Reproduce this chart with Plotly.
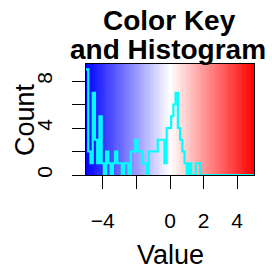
import numpy as np
import plotly.graph_objects as go

# Data
break_min = -5.0
break_max = 5.0
counts = [9, 2, 1, 7, 3, 1, 5, 1, 0, 2,
          1, 0, 1, 2, 1, 1, 0, 1, 1, 0,
          2, 2, 3, 2, 2, 1, 1, 0, 2, 2,
          2, 2, 3, 3, 3, 1, 4, 4, 5, 6,
          7, 4, 3, 2, 1, 0, 1, 0, 0, 1,
          1, 0, 0, 0, 0, 0, 0, 0, 0, 0,
          0, 0, 0, 0, 0, 0, 0, 0, 0, 0,
          0, 0, 0, 0, 0]
x_tick_vals = [-4, -2, 0, 2, 4]
x_tick_text = ["\u22124", "", "0", "2", "4"]
y_tick_vals = [0, 2, 4, 6, 8]
y_tick_text = ["0", "", "4", "", "8"]
title_lines = ["Color Key", "and Histogram"]
x_title = "Value"
y_title = "Count"

n_bins = len(counts)
edges = np.linspace(break_min, break_max, n_bins + 1)
centers = (edges[:-1] + edges[1:]) / 2
y_max = max(counts) * 1.05

FONT = "Liberation Sans, Arial, sans-serif"

fig = go.Figure()
fig.add_trace(go.Heatmap(
    x=edges, y=[0, y_max], z=[list(centers)],
    zmin=break_min, zmax=break_max,
    colorscale=[[0, "#0000FF"], [0.5, "#FFFFFF"], [1, "#FF0000"]],
    showscale=False, hoverinfo="skip",
))
fig.add_trace(go.Scatter(
    x=edges, y=counts + [counts[-1]], mode="lines",
    line=dict(color="#00FFFF", width=2.2, shape="hv"),
    showlegend=False, cliponaxis=True, hoverinfo="skip",
))

fig.update_layout(
    width=272, height=272,
    margin=dict(l=86, r=18, t=64, b=97),
    paper_bgcolor="white", plot_bgcolor="white",
    font=dict(family=FONT, color="black"),
    showlegend=False,
)
fig.update_xaxes(
    range=[break_min, break_max], tickvals=x_tick_vals, ticktext=x_tick_text,
    ticks="outside", ticklen=13, tickwidth=1, tickcolor="black",
    showline=True, linecolor="black", linewidth=1, mirror=True,
    showgrid=False, zeroline=False, tickfont=dict(size=21),
    ticklabelstandoff=14,
)
fig.update_yaxes(
    range=[0, y_max], tickvals=y_tick_vals, ticktext=y_tick_text,
    ticks="outside", ticklen=13, tickwidth=1, tickcolor="black",
    showline=True, linecolor="black", linewidth=1, mirror=True,
    showgrid=False, zeroline=False, tickfont=dict(size=21), tickangle=-90,
    ticklabelstandoff=12,
)

def px_x(px):
    return (px - 86) / (254 - 86)
def px_y(py):
    return (175 - py) / (175 - 64)
fig.add_annotation(text="<b>%s</b>" % title_lines[0], x=px_x(169), y=px_y(20), xref="paper", yref="paper",
                   showarrow=False, font=dict(size=28), xanchor="center", yanchor="middle")
fig.add_annotation(text="<b>%s</b>" % title_lines[1], x=px_x(168), y=px_y(50), xref="paper", yref="paper",
                   showarrow=False, font=dict(size=28), xanchor="center", yanchor="middle")
fig.add_annotation(text=x_title, x=px_x(170), y=px_y(255), xref="paper", yref="paper",
                   showarrow=False, font=dict(size=27), xanchor="center", yanchor="middle")
fig.add_annotation(text=y_title, x=px_x(25), y=px_y(120), xref="paper", yref="paper",
                   showarrow=False, font=dict(size=27), xanchor="center", yanchor="middle", textangle=-90)

fig.write_html("out.html", config={"displayModeBar": False, "staticPlot": True},
               post_script="document.body.style.margin='0';document.body.style.overflow='hidden';")
